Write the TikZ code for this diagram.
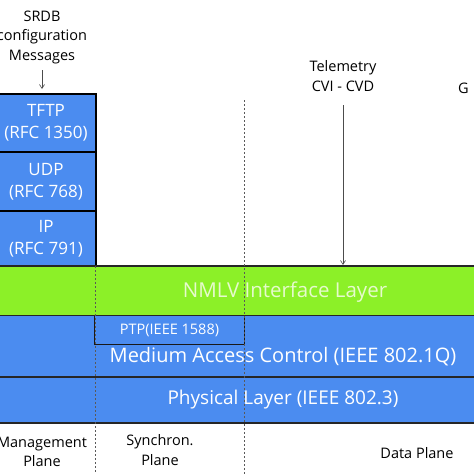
\documentclass[tikz,border=0pt]{standalone}
\usepackage{fontspec}
\setmainfont{Open Sans}
\usetikzlibrary{arrows.meta}
\definecolor{layblue}{RGB}{75,140,240}
\definecolor{laygreen}{RGB}{140,240,40}
\definecolor{greentext}{RGB}{230,250,205}
\begin{document}
\begin{tikzpicture}[x=1pt,y=-1pt,
  protobox/.style={draw=black,line width=1.2pt,fill=layblue,text=white,minimum width=100pt,inner sep=0pt,align=center,font=\fontsize{17}{22}\selectfont},
  lbl/.style={text=black,align=center,inner sep=0pt,font=\fontsize{14.5}{19.5}\selectfont},
  bandtext/.style={text=white,inner sep=0pt,font=\fontsize{20}{22}\selectfont},
  sep/.style={line width=1.6pt,draw=black!85},
  planeline/.style={draw=black!65,line width=0.8pt,dash pattern=on 2pt off 2pt},
  arr/.style={draw=black!70,line width=0.6pt,-{Straight Barb[length=4pt,width=5pt]}}]
\useasboundingbox (0,0) rectangle (474,474);
% bands
\fill[laygreen] (-5,266) rectangle (480,315);
\fill[layblue] (-5,315) rectangle (480,423);
% protocol stack boxes
\node[protobox,minimum height=58pt] (tftp) at (46,123) {TFTP\\(RFC 1350)};
\node[protobox,minimum height=59pt] (udp) at (46,181.5) {UDP\\(RFC 768)};
\node[protobox,minimum height=55pt] (ip) at (46,238.5) {IP\\(RFC 791)};
% PTP box
\node[draw=black!90,line width=1.2pt,fill=layblue,text=white,minimum width=150pt,minimum height=29pt,inner sep=0pt,font=\fontsize{14.5}{16}\selectfont] (ptp) at (169.5,330) {PTP(IEEE 1588)};
% separators
\draw[sep] (-5,266) -- (480,266);
\draw[sep] (-5,315.5) -- (480,315.5);
\draw[sep] (-5,377) -- (480,377);
\draw[sep] (-5,423) -- (480,423);
% plane lines
\coordinate (p1top) at (95,266);
\coordinate (p1bot) at (95,474);
\coordinate (p2top) at (244,100);
\coordinate (p2bot) at (244,474);
\draw[planeline] (p1top) -- (p1bot);
\draw[planeline] (p2top) -- (p2bot);
% band texts
\node[bandtext,text=greentext,font=\fontsize{20.5}{22}\selectfont] (nmlv) at (285,292) {NMLV Interface Layer};
\node[bandtext] (mac) at (283,357) {Medium Access Control (IEEE 802.1Q)};
\node[bandtext,font=\fontsize{19}{22}\selectfont] (phy) at (283,400) {Physical Layer (IEEE 802.3)};
% top labels
\node[lbl] (srdb) at (42,37) {SRDB\\configuration\\Messages};
\coordinate (srdbend) at (42,89);
\draw[arr] (42,70) -- (srdbend);
\node[lbl] (tele) at (343,76) {Telemetry\\CVI - CVD};
\coordinate (teleend) at (343,265);
\draw[arr] (343,105) -- (teleend);
\node[lbl,anchor=west] (g) at (458,88) {G};
% plane labels
\node[lbl] (mgmt) at (42,452) {Management\\Plane};
\node[lbl] (sync) at (160,450) {Synchron.\\Plane};
\node[lbl] (data) at (417,453) {Data Plane};
\end{tikzpicture}
\end{document}
